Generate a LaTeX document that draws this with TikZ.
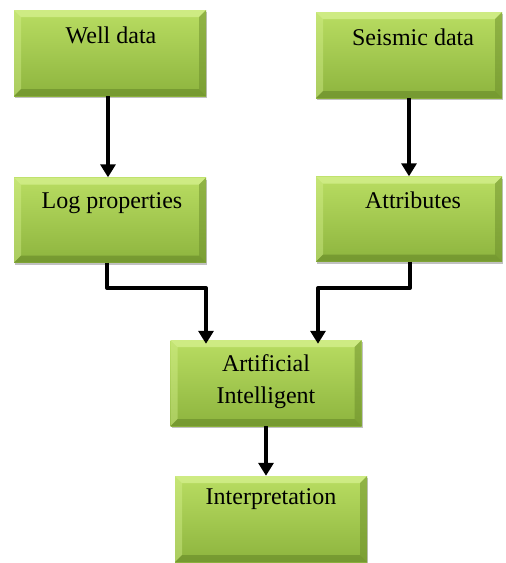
\documentclass[tikz,border=0pt]{standalone}
\usepackage{fontspec}
\setmainfont{Liberation Serif}
\usetikzlibrary{arrows.meta,shadows}

\definecolor{gtop}{HTML}{B9DD62}
\definecolor{gbot}{HTML}{8DB43E}
\definecolor{glight}{HTML}{D8F292}
\definecolor{gdark}{HTML}{6A8C2A}

\tikzset{
  gbox/.style={
    inner sep=0pt, minimum width=192pt, minimum height=86pt,
    top color=gtop, bottom color=gbot, draw=none,
    drop shadow={shadow xshift=1pt, shadow yshift=-2pt, opacity=0.35, fill=black!70},
    path picture={
      % bevelled edges
      \fill[glight,opacity=0.7] (path picture bounding box.north west) -- (path picture bounding box.north east)
        -- ([xshift=-7pt,yshift=-7pt]path picture bounding box.north east)
        -- ([xshift=7pt,yshift=-7pt]path picture bounding box.north west) -- cycle;
      \fill[glight,opacity=0.4] (path picture bounding box.north west) -- (path picture bounding box.south west)
        -- ([xshift=7pt,yshift=7pt]path picture bounding box.south west)
        -- ([xshift=7pt,yshift=-7pt]path picture bounding box.north west) -- cycle;
      \fill[gdark,opacity=0.65] (path picture bounding box.south west) -- (path picture bounding box.south east)
        -- ([xshift=-7pt,yshift=7pt]path picture bounding box.south east)
        -- ([xshift=7pt,yshift=7pt]path picture bounding box.south west) -- cycle;
      \fill[gdark,opacity=0.5] (path picture bounding box.north east) -- (path picture bounding box.south east)
        -- ([xshift=-7pt,yshift=7pt]path picture bounding box.south east)
        -- ([xshift=-7pt,yshift=-7pt]path picture bounding box.north east) -- cycle;
    }},
  txt/.style={font=\fontsize{24}{32}\selectfont, align=center, inner sep=0pt},
  arr/.style={line width=4pt, line join=round, -{Triangle[width=15pt,length=13pt]}}
}

\begin{document}
\begin{tikzpicture}[x=1pt,y=-1pt]
  \useasboundingbox (0,0) rectangle (506,563);

  % boxes
  \node[gbox] (well)   at (110,53)  {};
  \node[gbox, minimum width=186pt] (seis) at (409,55) {};
  \node[gbox, minimum height=85pt] (log)  at (110,220) {};
  \node[gbox, minimum width=186pt, minimum height=85pt] (attr) at (409,219) {};
  \node[gbox, minimum width=191pt] (ai)     at (266,383) {};
  \node[gbox] (interp) at (271,519) {};

  % labels
  \node[txt] (twell)   at (111,35)  {Well data};
  \node[txt] (tseis)   at (413,37)  {Seismic data};
  \node[txt] (tlog)    at (112,203) {Log properties};
  \node[txt] (tattr)   at (413,200) {Attributes};
  \node[txt] (tai)     at (266,382) {Artificial\\Intelligent};
  \node[txt] (tinterp) at (271,499) {Interpretation};

  % junction points
  \coordinate (jl) at (206,288);
  \coordinate (jr) at (318,288);

  % connectors
  \draw[arr] ([xshift=-2pt]well.south) -- ([xshift=-2pt]log.north);
  \draw[arr] (seis.south) -- (attr.north);
  \draw[arr] ([xshift=-3pt]log.south) |- (jl) -- ([yshift=-4pt]jl |- ai.north);
  \draw[arr] ([xshift=1pt]attr.south) |- (jr) -- ([yshift=-4pt]jr |- ai.north);
  \draw[arr] (ai.south) -- (ai.south |- interp.north);
\end{tikzpicture}
\end{document}
